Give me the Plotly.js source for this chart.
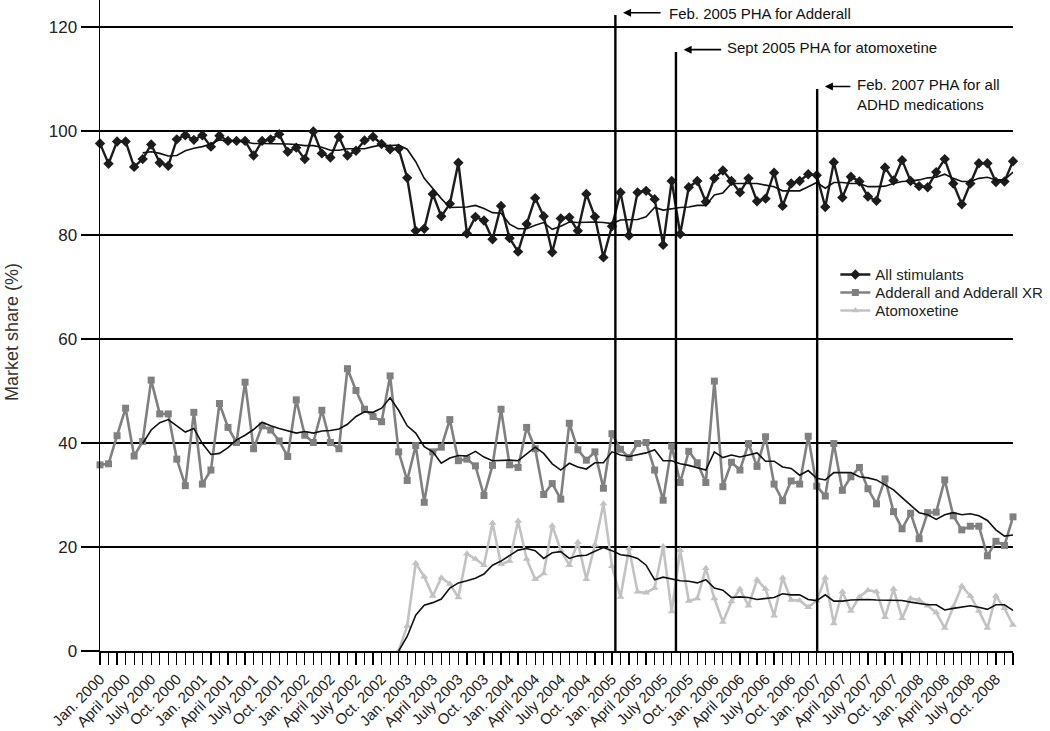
<!DOCTYPE html>
<html>
<head>
<meta charset="utf-8">
<script src="https://cdn.plot.ly/plotly-3.0.1.min.js"></script>
<style>
html,body{margin:0;padding:0;background:#fff;}
#chart{width:1050px;height:731px;}
</style>
</head>
<body>
<div id="chart"></div>
<script>
// Monthly data, Jan. 2000 (index 0) to Dec. 2008 (index 107)
var tickLabels = ["Jan. 2000","April 2000","July 2000","Oct. 2000",
  "Jan. 2001","April 2001","July 2001","Oct. 2001",
  "Jan. 2002","April 2002","July 2002","Oct. 2002",
  "Jan. 2003","April 2003","July 2003","Oct. 2003",
  "Jan. 2004","April 2004","July 2004","Oct. 2004",
  "Jan. 2005","April 2005","July 2005","Oct. 2005",
  "Jan. 2006","April 2006","July 2006","Oct. 2006",
  "Jan. 2007","April 2007","July 2007","Oct. 2007",
  "Jan. 2008","April 2008","July 2008","Oct. 2008"];

var allStimulants = [97.6,93.7,98.0,98.0,93.1,94.6,97.4,93.9,93.3,98.4,
  99.2,98.3,99.2,97.0,99.1,98.1,98.1,98.1,95.3,98.1,
  98.4,99.4,96.0,96.8,94.6,99.9,95.7,94.9,98.9,95.3,
  96.2,98.2,98.9,97.5,96.5,96.6,91.0,80.8,81.2,87.9,
  83.6,86.0,93.9,80.3,83.5,82.8,79.2,85.6,79.4,76.8,
  82.1,87.1,83.6,76.7,83.2,83.4,80.8,87.9,83.5,75.7,
  81.7,88.2,79.9,88.2,88.5,86.9,78.1,90.4,80.2,89.2,
  90.4,86.4,90.9,92.4,90.4,88.2,90.9,86.5,87.0,92.0,
  85.6,89.9,90.4,91.7,91.5,85.4,94.0,87.2,91.2,90.3,
  87.4,86.6,93.0,90.5,94.4,90.4,89.4,89.2,92.1,94.6,
  89.9,85.9,89.9,93.8,93.8,90.2,90.3,94.2];

var allStimulantsTrend = [null,null,null,null,null,
  95.8,96.0,95.7,95.2,95.3,96.2,96.7,97.0,97.5,98.3,98.1,98.1,97.9,97.6,97.6,
  97.6,97.6,97.5,97.4,97.2,97.2,96.9,96.3,96.3,96.6,96.6,
  96.6,97.0,97.3,97.2,97.3,96.5,94.1,90.9,88.9,87.0,85.3,85.4,85.4,85.7,85.1,
  84.3,84.2,82.1,81.2,81.2,81.9,82.4,81.1,81.7,82.5,82.4,82.5,82.5,82.4,82.2,
  82.9,82.9,83.0,
  83.5,85.3,84.8,85.1,85.3,85.4,85.7,85.7,87.7,88.1,89.9,89.9,89.9,89.9,89.6,
  89.3,88.5,88.5,88.5,89.3,90.1,89.0,90.1,90.1,89.9,89.9,89.3,89.3,89.4,89.9,
  90.3,90.4,90.6,91.0,91.1,91.7,90.9,90.3,90.3,90.9,91.1,90.6,90.6,92.1];

var adderall = [35.8,36.0,41.4,46.7,37.5,40.3,52.1,45.6,45.6,36.9,
  31.8,45.9,32.1,34.8,47.6,43.0,40.1,51.7,38.9,43.3,
  42.5,40.4,37.4,48.3,41.5,40.1,46.3,40.1,38.9,54.3,
  50.1,46.5,45.1,44.1,52.9,38.3,32.8,39.5,28.6,38.3,
  39.2,44.5,36.6,36.9,35.6,29.9,35.7,46.5,35.8,35.3,
  43.0,38.9,30.1,32.2,29.2,43.8,38.7,36.7,38.3,31.3,
  41.8,38.8,37.2,39.9,40.1,34.8,29.0,39.4,32.4,38.4,
  36.2,32.4,51.9,31.6,36.3,34.8,39.9,35.5,41.2,32.1,
  28.9,32.7,32.1,41.3,31.7,29.8,39.9,30.9,33.5,35.3,
  31.2,28.3,33.1,26.8,23.5,26.5,21.6,26.6,26.7,32.9,
  26.0,23.3,24.0,24.0,18.3,21.1,20.3,25.8];

var adderallTrend = [null,null,null,null,null,
  39.9,42.5,43.9,44.5,43.3,42.1,42.8,39.9,37.8,38.0,39.1,40.6,41.5,42.6,44.0,
  43.3,42.8,42.3,41.9,42.2,41.9,42.3,42.4,42.7,43.6,45.1,46.0,
  45.9,46.7,48.7,46.3,43.3,41.9,39.3,38.3,36.1,37.1,37.6,37.5,38.4,37.3,36.6,
  36.7,36.7,36.6,37.9,39.2,38.0,36.0,34.8,36.1,35.4,35.0,36.2,36.2,38.3,37.7,
  37.4,37.8,
  38.1,38.7,36.6,36.6,36.0,35.7,35.3,34.8,38.3,37.2,37.7,37.3,37.7,38.1,36.5,
  36.5,35.4,35.1,33.8,34.7,33.2,32.9,34.3,34.3,34.3,33.5,33.3,32.9,31.9,31.0,
  29.5,28.1,26.6,26.2,25.3,26.2,26.6,26.2,26.4,26.0,25.1,23.3,22.1,22.3];

var atomoxetine = [null,null,null,null,null,null,null,null,null,null,
  null,null,null,null,null,null,null,null,null,null,
  null,null,null,null,null,null,null,null,null,null,
  null,null,null,null,null,
  0,4.8,16.9,14.3,10.6,14.1,12.9,10.3,18.7,17.7,
  16.5,24.6,16.7,17.3,25.0,17.7,13.8,14.9,24.1,19.4,
  16.5,20.9,13.8,20.4,28.3,16.3,10.4,19.7,11.4,11.2,
  12.1,20.1,7.6,19.4,9.6,10.1,15.9,10.1,5.6,9.5,
  11.9,8.7,13.7,11.9,6.8,14.1,9.8,9.7,8.4,9.7,
  14.1,5.3,11.4,7.7,10.4,11.7,11.4,6.5,11.9,6.3,
  10.1,9.8,8.7,7.4,4.4,8.5,12.5,10.6,7.7,4.4,
  10.6,8.2,5.0];

var atomoxetineTrend = [null,null,null,null,null,null,null,null,null,null,
  null,null,null,null,null,null,null,null,null,null,
  null,null,null,null,null,null,null,null,null,null,
  null,null,null,null,null,
  0,2.8,6.9,8.8,9.3,10.0,12.1,13.1,13.5,14.0,
  14.8,16.5,17.3,18.3,19.4,19.7,19.3,17.8,18.9,19.1,
  17.8,18.3,18.4,19.2,19.9,19.3,18.5,18.3,17.8,16.5,
  13.7,14.2,13.8,13.5,13.4,13.1,13.7,12.1,11.7,10.3,
  10.4,10.3,9.9,10.1,10.3,11.0,10.8,10.8,9.9,9.7,
  10.8,9.6,9.6,9.8,9.9,9.9,9.8,9.8,9.8,9.7,
  9.4,9.2,8.9,8.9,7.9,8.2,8.5,8.7,8.4,8.0,
  8.9,8.9,7.8];

var seriesNames = ["All stimulants","Adderall and Adderall XR","Atomoxetine"];
var yTitle = "Market share (%)";

// event markers (month position, line top, label)
var eventX = [60.4, 67.5, 84.05];
var eventTop = [122.3, 115.2, 108.1];
var eventLabels = ["Feb. 2005 PHA for Adderall","Sept 2005 PHA for atomoxetine","Feb. 2007 PHA for all<br>ADHD medications"];

var months = [];
for (var i = 0; i < allStimulants.length; i++) months.push(i);
var tickVals = [];
for (var j = 0; j < tickLabels.length; j++) tickVals.push(j * 3);

var FONT = "Liberation Sans, Arial, Helvetica, sans-serif";
var C_STIM = "#1c1c1c", C_ADD = "#808080", C_ATO = "#c2c2c2";

var traces = [
  {x: months, y: allStimulants, name: seriesNames[0], mode: "lines+markers", legend: "legend",
   line: {color: C_STIM, width: 2.4}, marker: {symbol: "diamond", size: 8, color: C_STIM},
   cliponaxis: false},
  {x: months, y: adderall, name: seriesNames[1], mode: "lines+markers", legend: "legend2",
   line: {color: C_ADD, width: 2.6}, marker: {symbol: "square", size: 7, color: C_ADD},
   cliponaxis: false},
  {x: months, y: atomoxetine, name: seriesNames[2], mode: "lines+markers", legend: "legend3",
   line: {color: C_ATO, width: 2.6}, marker: {symbol: "triangle-up", size: 7, color: C_ATO},
   cliponaxis: false},
  {x: months, y: allStimulantsTrend, mode: "lines", showlegend: false, hoverinfo: "skip",
   line: {color: "#111", width: 1.6}},
  {x: months, y: adderallTrend, mode: "lines", showlegend: false, hoverinfo: "skip",
   line: {color: "#111", width: 1.6}},
  {x: months, y: atomoxetineTrend, mode: "lines", showlegend: false, hoverinfo: "skip",
   line: {color: "#111", width: 1.6}}
];

var shapes = [], annotations = [];
var arrowLen = [39, 39, 27];
var textX = [66.5, 73.2, 88.5];
var textY = [122.7, 116.0, 107.1];
for (var k = 0; k < eventX.length; k++) {
  shapes.push({type: "line", xref: "x", yref: "y", x0: eventX[k], x1: eventX[k], y0: 0, y1: eventTop[k],
    line: {color: "#000", width: 2.4}});
  annotations.push({xref: "x", yref: "y", x: eventX[k] + 0.9, y: eventTop[k] + 0.45, text: "",
    showarrow: true, ax: arrowLen[k], ay: 0, arrowhead: 2, arrowsize: 1, arrowwidth: 1.6, arrowcolor: "#000"});
  annotations.push({xref: "x", yref: "y", x: textX[k], y: textY[k], text: eventLabels[k],
    showarrow: false, xanchor: "left", yanchor: "middle", align: "left",
    font: {family: FONT, size: 15, color: "#111"}});
}
// y-axis title
annotations.push({xref: "paper", yref: "paper", x: -0.0964, y: 0.49, text: yTitle, textangle: -90,
  showarrow: false, xanchor: "center", yanchor: "middle",
  font: {family: FONT, size: 18, color: "#333"}});

function legendAt(yTop) {
  return {x: 0.8054, y: yTop, xanchor: "left", yanchor: "top", bgcolor: "rgba(0,0,0,0)",
    font: {family: FONT, size: 15, color: "#222"}};
}

var layout = {
  width: 1050, height: 731,
  margin: {l: 100, r: 37, t: 0, b: 80},
  paper_bgcolor: "#fff", plot_bgcolor: "#fff",
  font: {family: FONT, color: "#222"},
  showlegend: true,
  legend: legendAt(0.6032),
  legend2: legendAt(0.5756),
  legend3: legendAt(0.5479),
  xaxis: {range: [0, 107], showgrid: false, zeroline: false, showline: true, linecolor: "#000", linewidth: 1.5,
    ticks: "outside", ticklen: 12, tickwidth: 1.2, tickcolor: "#000",
    tickvals: tickVals, ticktext: tickLabels, tickangle: -45,
    tickfont: {family: FONT, size: 15, color: "#222"},
    minor: {tick0: 0, dtick: 1, ticks: "outside", ticklen: 12, tickwidth: 1.2, tickcolor: "#000", showgrid: false}},
  yaxis: {range: [0, 125.2], tickvals: [0,20,40,60,80,100,120], showgrid: true, gridcolor: "#000", gridwidth: 1.5,
    zeroline: false, showline: true, linecolor: "#000", linewidth: 1.5,
    ticks: "outside", ticklen: 18, tickwidth: 1.5, tickcolor: "#000",
    tickfont: {family: FONT, size: 17, color: "#222"}},
  shapes: shapes,
  annotations: annotations
};

Plotly.newPlot("chart", traces, layout, {displayModeBar: false, staticPlot: true});
</script>
</body>
</html>
